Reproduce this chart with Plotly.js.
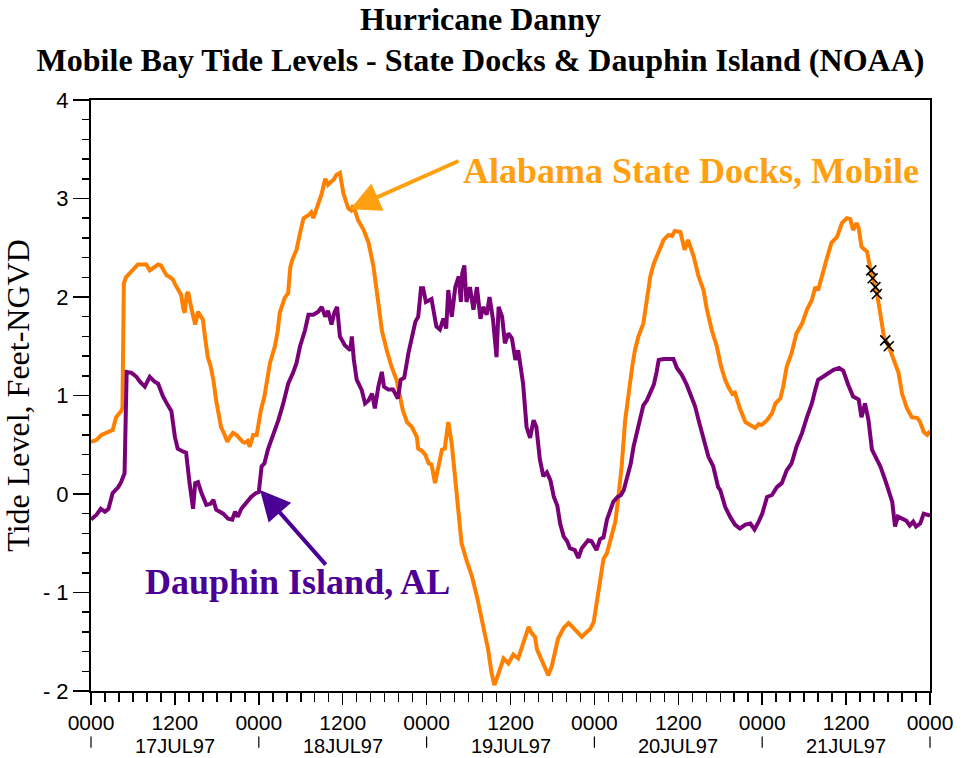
<!DOCTYPE html>
<html>
<head>
<meta charset="utf-8">
<script src="https://cdn.plot.ly/plotly-3.0.1.min.js"></script>
<style>html,body{margin:0;padding:0;background:#fff;}#chart{width:961px;height:758px;}</style>
</head>
<body>
<div id="chart"></div>
<script>
// Hours since 17JUL97 0000 and tide levels (feet NGVD)
const hoursDocks = [0.0,0.8,1.5,2.3,3.1,3.6,4.3,4.5,4.7,5.0,5.5,6.2,6.7,7.3,7.9,8.4,9.0,9.6,10.0,10.4,10.8,11.3,11.7,12.1,12.6,12.9,13.2,13.4,13.7,13.9,14.4,14.9,15.3,15.7,16.0,16.3,16.7,17.1,17.5,17.9,18.2,18.6,19.0,19.5,19.9,20.3,20.8,21.3,21.7,22.0,22.4,22.7,23.0,23.2,23.7,24.3,24.8,25.2,25.6,26.3,26.7,27.0,27.7,28.2,28.5,28.8,29.4,29.9,30.4,31.1,31.5,31.8,32.5,33.0,33.5,33.9,34.3,34.7,35.1,35.6,36.1,36.5,36.8,37.2,37.5,38.2,39.0,39.7,40.4,41.1,41.6,42.3,43.0,43.7,44.2,44.6,45.2,45.9,46.1,46.6,46.8,47.3,47.8,48.3,48.7,49.2,49.7,50.2,50.6,51.1,51.6,52.1,52.5,53.0,53.7,54.5,55.2,55.9,56.4,56.8,57.3,57.7,58.3,59.0,59.7,60.4,61.1,61.8,62.6,63.0,63.5,63.8,64.5,64.9,65.4,65.9,66.4,66.8,67.6,68.3,69.0,69.5,70.2,70.9,71.4,71.9,72.3,72.8,73.3,73.8,74.3,74.7,75.0,75.4,75.9,76.4,76.9,77.4,77.8,78.3,79.0,79.5,80.0,80.5,81.2,81.9,82.6,83.1,83.5,84.3,84.9,85.4,86.2,86.9,87.6,88.1,88.8,89.5,90.1,90.7,91.2,91.7,92.1,92.8,93.6,94.3,95.0,95.5,95.9,96.7,97.4,97.9,98.6,99.0,99.5,100.2,100.9,101.7,102.4,103.1,103.6,104.0,104.5,105.2,105.9,106.7,107.4,108.1,108.6,109.0,109.5,109.8,110.2,111.0,111.4,111.9,112.4,112.9,113.4,114.1,114.8,115.5,116.0,116.7,117.4,118.2,118.6,119.1,119.6,120.0];
const levelsDocks = [0.53,0.55,0.60,0.62,0.65,0.78,0.84,0.88,2.14,2.20,2.24,2.30,2.33,2.33,2.33,2.27,2.30,2.33,2.32,2.27,2.22,2.20,2.18,2.12,2.05,2.02,1.88,1.84,2.03,2.05,1.87,1.72,1.85,1.80,1.77,1.60,1.39,1.30,1.16,0.95,0.82,0.68,0.62,0.53,0.58,0.62,0.60,0.56,0.53,0.52,0.54,0.48,0.55,0.60,0.60,0.85,0.99,1.15,1.33,1.50,1.65,1.84,1.99,2.04,2.30,2.38,2.48,2.65,2.80,2.83,2.86,2.80,2.95,3.05,3.20,3.14,3.17,3.19,3.24,3.26,3.05,2.97,2.90,2.88,2.93,2.78,2.68,2.55,2.31,1.94,1.66,1.46,1.29,1.16,0.99,0.85,0.73,0.68,0.65,0.58,0.46,0.44,0.40,0.31,0.30,0.11,0.28,0.45,0.46,0.73,0.51,0.18,-0.16,-0.50,-0.67,-0.84,-1.04,-1.28,-1.41,-1.58,-1.82,-1.94,-1.82,-1.67,-1.72,-1.63,-1.67,-1.52,-1.35,-1.41,-1.45,-1.58,-1.69,-1.75,-1.84,-1.75,-1.58,-1.47,-1.36,-1.31,-1.36,-1.40,-1.45,-1.40,-1.37,-1.30,-1.12,-0.90,-0.66,-0.60,-0.47,-0.33,-0.28,-0.05,0.28,0.75,1.06,1.29,1.46,1.60,1.73,1.97,2.21,2.34,2.46,2.58,2.63,2.62,2.67,2.66,2.48,2.58,2.41,2.21,2.07,1.87,1.66,1.50,1.30,1.16,1.08,1.02,1.03,0.87,0.73,0.70,0.67,0.71,0.70,0.75,0.82,0.92,0.97,1.09,1.29,1.43,1.63,1.73,1.87,1.97,2.10,2.07,2.21,2.38,2.55,2.61,2.75,2.80,2.79,2.68,2.75,2.70,2.51,2.46,2.31,2.17,2.04,1.83,1.60,1.50,1.36,1.23,1.02,0.87,0.78,0.77,0.73,0.63,0.60,0.64];

const hoursDauphin = [0.0,0.8,1.4,2.0,2.5,3.1,3.9,4.3,4.8,5.1,5.8,6.5,7.0,7.7,8.4,9.1,9.6,10.3,11.0,11.5,12.0,12.4,13.2,13.6,14.1,14.6,14.9,15.3,15.8,16.5,17.1,17.5,17.9,18.9,19.6,20.2,20.6,21.0,21.5,22.2,22.9,23.6,24.0,24.4,24.8,25.3,26.0,26.8,27.5,28.2,28.9,29.4,29.9,30.6,31.1,31.8,32.5,33.0,33.5,33.9,34.4,34.8,35.2,35.6,36.3,37.1,37.3,37.6,38.0,38.7,39.2,39.7,40.2,40.6,41.1,41.6,41.9,42.5,43.2,43.9,44.3,44.8,45.4,45.9,46.4,46.8,47.2,47.5,47.9,48.7,49.4,49.9,50.4,50.8,51.1,51.6,52.1,52.6,52.9,53.1,53.4,53.7,54.2,54.7,55.2,55.7,56.1,56.6,57.0,57.5,58.0,58.3,58.8,59.2,59.7,60.2,60.7,61.1,61.8,62.3,62.8,63.3,63.7,64.2,64.7,65.2,65.7,66.2,66.7,67.1,67.6,68.1,68.5,69.2,69.7,70.2,70.7,71.1,71.6,72.3,72.8,73.3,73.8,74.3,74.7,75.3,75.8,76.2,76.7,77.2,77.6,78.1,78.5,79.0,79.5,80.0,80.5,80.9,81.2,81.9,82.6,83.3,83.8,84.5,85.2,85.7,86.4,86.9,87.6,88.3,89.0,89.7,90.0,90.7,91.4,92.1,92.8,93.6,94.3,94.9,95.5,96.0,96.7,97.4,98.1,98.8,99.5,100.2,100.9,101.7,102.4,103.1,103.6,104.0,104.7,105.4,106.2,107.0,107.6,108.3,109.0,109.8,110.2,110.7,111.2,111.7,112.2,112.9,113.6,114.1,114.6,115.0,115.4,116.0,116.6,117.1,117.6,118.0,118.6,119.1,119.8,120.0];
const levelsDauphin = [-0.26,-0.21,-0.15,-0.18,-0.15,0.01,0.07,0.12,0.21,1.24,1.23,1.19,1.14,1.09,1.19,1.14,1.12,0.99,0.90,0.84,0.58,0.46,0.43,0.42,0.11,-0.15,0.11,0.12,0.01,-0.11,-0.10,-0.06,-0.16,-0.20,-0.25,-0.26,-0.18,-0.23,-0.15,-0.09,-0.03,0.01,0.02,0.28,0.31,0.45,0.58,0.75,0.92,1.12,1.23,1.33,1.50,1.66,1.82,1.82,1.85,1.90,1.80,1.86,1.72,1.84,1.90,1.60,1.51,1.46,1.60,1.36,1.16,1.06,0.92,0.95,1.02,0.87,1.09,1.24,1.09,1.06,1.06,0.97,1.16,1.18,1.43,1.60,1.75,1.80,2.09,2.09,1.95,1.98,1.70,1.67,1.78,1.68,2.07,1.80,2.10,2.21,1.95,2.24,2.32,1.95,2.10,1.87,2.10,1.78,1.90,1.82,2.00,1.77,1.39,1.90,1.80,1.53,1.63,1.58,1.36,1.46,1.12,0.68,0.57,0.75,0.68,0.35,0.18,0.22,0.14,-0.03,-0.12,-0.30,-0.43,-0.48,-0.55,-0.57,-0.65,-0.55,-0.50,-0.47,-0.48,-0.57,-0.46,-0.44,-0.26,-0.16,-0.08,-0.03,-0.01,0.04,0.18,0.31,0.48,0.62,0.75,0.90,0.95,1.02,1.11,1.24,1.36,1.37,1.37,1.37,1.28,1.21,1.11,1.01,0.89,0.75,0.55,0.38,0.28,0.07,0.04,-0.13,-0.23,-0.31,-0.35,-0.31,-0.30,-0.36,-0.28,-0.20,-0.03,-0.01,0.07,0.11,0.24,0.31,0.48,0.62,0.78,0.92,1.06,1.16,1.19,1.22,1.26,1.28,1.25,1.11,0.99,0.96,0.78,0.92,0.75,0.45,0.38,0.28,0.14,0.04,-0.08,-0.33,-0.23,-0.25,-0.27,-0.32,-0.28,-0.33,-0.30,-0.20,-0.22,-0.22];

// Black x marks on the State Docks curve (21JUL97)
const markerHours = [111.6,111.8,112.2,112.4,113.6,114.1];
const markerLevels = [2.27,2.19,2.10,2.03,1.56,1.50];

// Axis tick labels
const xTickVals = [0,12,24,36,48,60,72,84,96,108,120];
const xTickText = ['0000','1200','0000','1200','0000','1200','0000','1200','0000','1200','0000'];
const dateCenters = [12,36,60,84,108];
const dateLabels = ['17JUL97','18JUL97','19JUL97','20JUL97','21JUL97'];
const dayBoundaries = [0,24,48,72,96,120];
const yTickVals = [-2,-1,0,1,2,3,4];
const yTickText = ['- 2','- 1','0','1','2','3','4'];

const xRange = [0,120];
const yRange = [-2,4];

const orange = '#ff8000';
const purple = '#7a007a';
const orangeLabel = '#ffa010';
const purpleLabel = '#4b0096';

const traces = [
  {x: hoursDocks, y: levelsDocks, type: 'scatter', mode: 'lines',
   line: {color: orange, width: 4}, name: 'Alabama State Docks, Mobile'},
  {x: hoursDauphin, y: levelsDauphin, type: 'scatter', mode: 'lines',
   line: {color: purple, width: 4}, name: 'Dauphin Island, AL'},
  {x: markerHours, y: markerLevels, type: 'scatter', mode: 'markers',
   marker: {symbol: 'x-thin', size: 10, line: {width: 1.6, color: '#000'}, color: '#000'}, name: 'marks'}
];

const px = h => (h - xRange[0]) / (xRange[1] - xRange[0]);

const shapes = dayBoundaries.map(h => ({
  type: 'line', xref: 'paper', yref: 'paper',
  x0: px(h), x1: px(h), y0: -0.077, y1: -0.096,
  line: {color: '#000', width: 1.2}
}));

const annotations = dateCenters.map((h, i) => ({
  x: h, xref: 'x', y: -0.0728, yref: 'paper', text: dateLabels[i], showarrow: false,
  yanchor: 'top', xanchor: 'center', borderpad: 0,
  font: {family: 'Liberation Sans, Arial, sans-serif', size: 20, color: '#000'}
}));

annotations.push(
  {x: 85.8, y: 3.28, xref: 'x', yref: 'y', text: '<b>Alabama State Docks, Mobile</b>', showarrow: false,
   font: {family: 'Liberation Serif, Times New Roman, serif', size: 36, color: orangeLabel}},
  {x: 29.5, y: -0.89, xref: 'x', yref: 'y', text: '<b>Dauphin Island, AL</b>', showarrow: false,
   font: {family: 'Liberation Serif, Times New Roman, serif', size: 36, color: purpleLabel}},
  {x: 37.05, y: 2.89, xref: 'x', yref: 'y', text: '', showarrow: true, ax: 110, ay: -49,
   arrowcolor: orangeLabel, arrowwidth: 4, arrowhead: 2, arrowsize: 1.5},
  {x: 24.18, y: 0.04, xref: 'x', yref: 'y', text: '', showarrow: true, ax: 67, ay: 76,
   arrowcolor: purpleLabel, arrowwidth: 4, arrowhead: 2, arrowsize: 1.5}
);

const layout = {
  width: 961, height: 758,
  margin: {l: 91, r: 31, t: 100, b: 67},
  paper_bgcolor: '#fff', plot_bgcolor: '#fff',
  showlegend: false,
  title: {
    text: '<b>Hurricane Danny<br>Mobile Bay Tide Levels - State Docks &amp; Dauphin Island (NOAA)</b>',
    font: {family: 'Liberation Serif, Times New Roman, serif', size: 32, color: '#000'},
    x: 0.5, xanchor: 'center', xref: 'container',
    y: 0.961, yanchor: 'top', yref: 'container'
  },
  xaxis: {
    range: xRange, tickmode: 'array', tickvals: xTickVals, ticktext: xTickText,
    ticks: 'outside', ticklen: 12, tickwidth: 1.5, tickcolor: '#000',
    minor: {dtick: 2, tick0: 0, ticks: 'outside', ticklen: 9, tickwidth: 1.5, tickcolor: '#000', showgrid: false},
    showline: true, linecolor: '#000', linewidth: 2, mirror: true,
    showgrid: false, zeroline: false,
    tickfont: {family: 'Liberation Sans, Arial, sans-serif', size: 21, color: '#000'}
  },
  yaxis: {
    range: yRange, tickmode: 'array', tickvals: yTickVals, ticktext: yTickText,
    ticks: 'outside', ticklen: 16, tickwidth: 1.5, tickcolor: '#000',
    minor: {dtick: 0.2, tick0: 0, ticks: 'outside', ticklen: 7, tickwidth: 1.5, tickcolor: '#000', showgrid: false},
    showline: true, linecolor: '#000', linewidth: 2, mirror: true,
    showgrid: false, zeroline: false,
    tickfont: {family: 'Liberation Sans, Arial, sans-serif', size: 22, color: '#000'},
    title: {text: 'Tide Level, Feet-NGVD', standoff: 10,
            font: {family: 'Liberation Serif, Times New Roman, serif', size: 32, color: '#000'}}
  },
  shapes: shapes,
  annotations: annotations
};

Plotly.newPlot('chart', traces, layout, {displayModeBar: false, staticPlot: true});
</script>
</body>
</html>
